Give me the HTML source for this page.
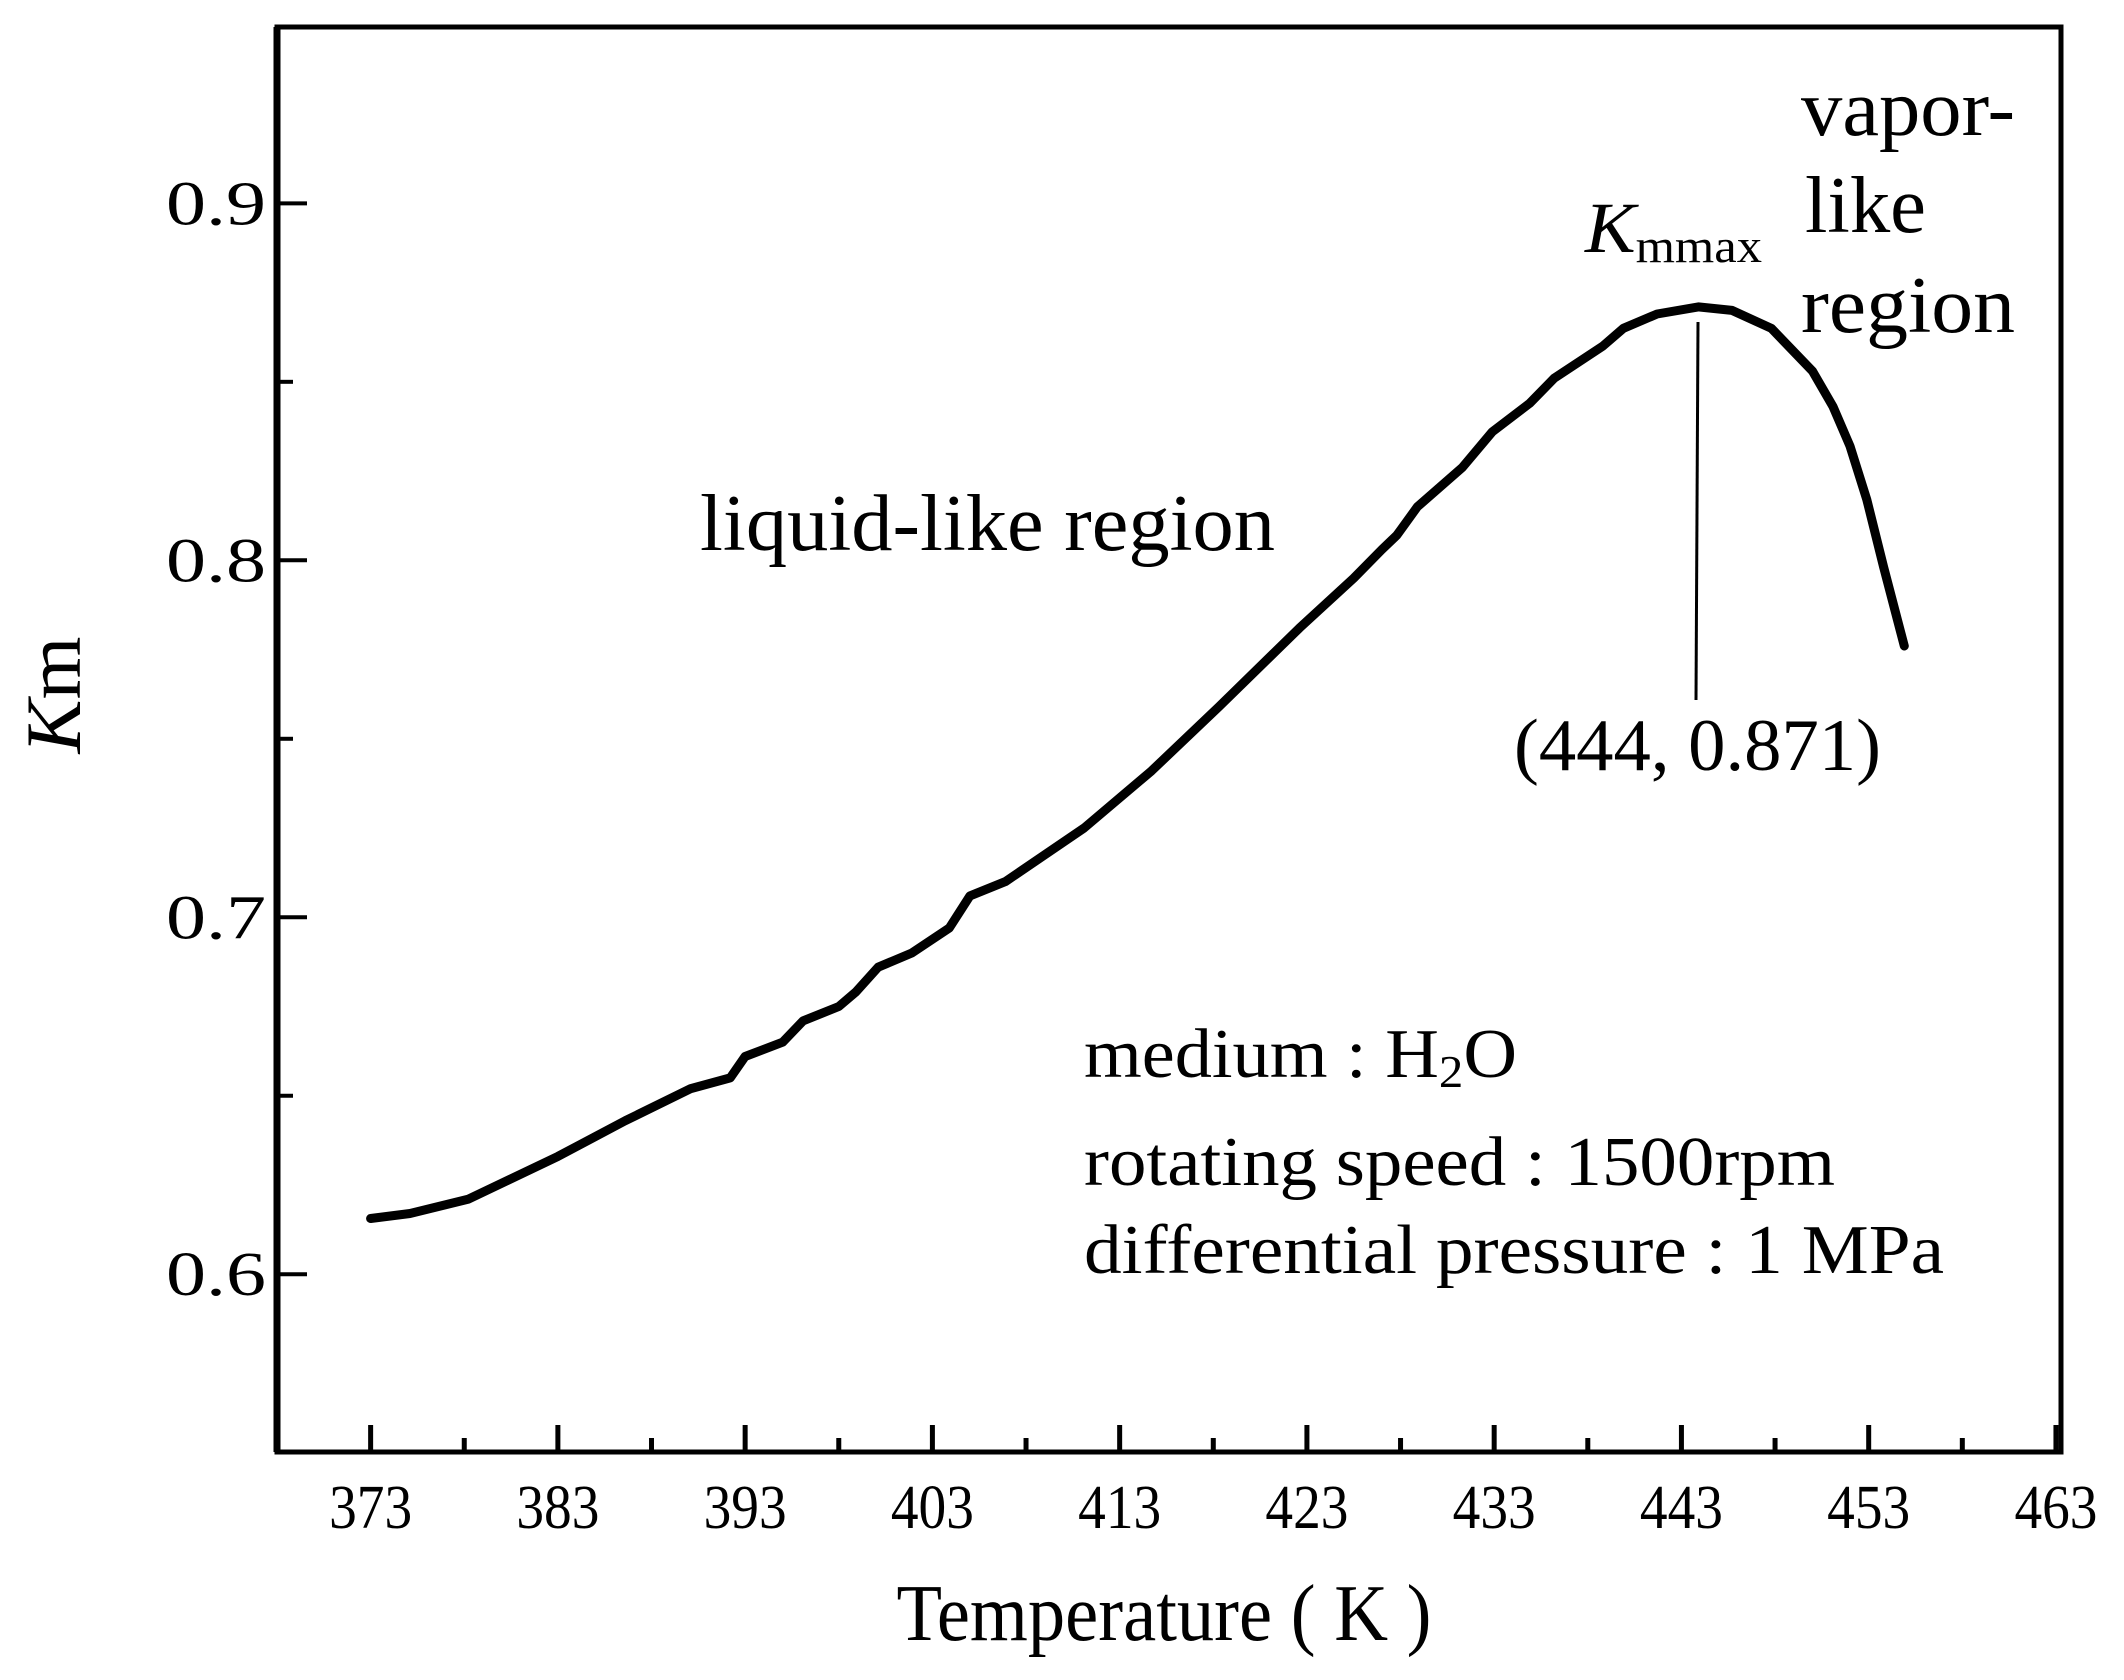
<!DOCTYPE html>
<html><head><meta charset="utf-8"><style>
html,body{margin:0;padding:0;background:#fff;}
svg{display:block;}
svg text{font-family:"Liberation Serif",serif;}
</style></head><body>
<svg id="chart" width="2124" height="1680" viewBox="0 0 2124 1680" xmlns="http://www.w3.org/2000/svg">
<rect x="0" y="0" width="2124" height="1680" fill="#fff"/>
<g id="axes"></g>
<g id="series"></g>
<g id="labels">
<text transform="translate(80,695) rotate(-90)" text-anchor="middle" font-size="78" textLength="117" lengthAdjust="spacingAndGlyphs"><tspan font-style="italic">K</tspan>m</text>
<text x="1164" y="1640" text-anchor="middle" font-size="80" textLength="535" lengthAdjust="spacingAndGlyphs">Temperature ( K )</text>
<text x="700" y="550" font-size="80" textLength="575" lengthAdjust="spacingAndGlyphs">liquid-like region</text>
<text x="1801" y="135" font-size="80" textLength="214" lengthAdjust="spacingAndGlyphs">vapor-</text>
<text x="1805" y="232" font-size="80" textLength="121" lengthAdjust="spacingAndGlyphs">like</text>
<text x="1801" y="332" font-size="80" textLength="214" lengthAdjust="spacingAndGlyphs">region</text>
<text x="1585" y="252" font-size="72" textLength="177" lengthAdjust="spacingAndGlyphs"><tspan font-style="italic">K</tspan><tspan font-size="48" dy="10">mmax</tspan></text>
<line x1="1698" y1="322" x2="1696" y2="700" stroke="#000" stroke-width="3"/>
<text x="1514" y="770" font-size="74" textLength="367" lengthAdjust="spacingAndGlyphs">(444, 0.871)</text>
<text x="1084" y="1077" font-size="70" textLength="433" lengthAdjust="spacingAndGlyphs">medium : H<tspan font-size="46" dy="10">2</tspan><tspan dy="-10">O</tspan></text>
<text x="1084" y="1185" font-size="70" textLength="751" lengthAdjust="spacingAndGlyphs">rotating speed : 1500rpm</text>
<text x="1084" y="1273" font-size="70" textLength="860" lengthAdjust="spacingAndGlyphs">differential pressure : 1 MPa</text>
</g>
</svg>
<script>
const temps = [373,375.1,378.2,383,386.6,390.1,392.2,393.0,395.0,396.1,398,398.9,400.1,401.9,403.9,405.0,406.9,411.1,414.7,418.3,422.6,425.5,427.0,427.8,428.9,431.3,432.9,434.9,436.2,438.8,439.9,441.7,443.9,445.7,447.8,450,451.1,452,452.9,453.8,454.9];
const kmValues = [0.6156,0.617,0.621,0.633,0.643,0.652,0.655,0.661,0.665,0.671,0.675,0.679,0.686,0.690,0.697,0.706,0.710,0.725,0.741,0.759,0.781,0.795,0.803,0.807,0.815,0.826,0.836,0.844,0.851,0.860,0.865,0.869,0.871,0.870,0.865,0.853,0.843,0.832,0.817,0.798,0.776];
const xTicks = [373,383,393,403,413,423,433,443,453,463];
const xTickLabels = ["373","383","393","403","413","423","433","443","453","463"];
const yTicks = [0.6,0.7,0.8,0.9];
const yTickLabels = ["0.6","0.7","0.8","0.9"];
const xMinorTicks = [378,388,398,408,418,428,438,448,458];
const yMinorTicks = [0.65,0.75,0.85];

const L=277,R=2061,T=27,B=1452;
const xMin=368.0,xMax=463.27,yMin=0.5502,yMax=0.9494;
const sx=v=>L+(v-xMin)/(xMax-xMin)*(R-L);
const sy=v=>B-(v-yMin)/(yMax-yMin)*(B-T);
const NS="http://www.w3.org/2000/svg";
const axes=document.getElementById('axes');
function mk(tag,attrs,parent){const e=document.createElementNS(NS,tag);for(const k in attrs)e.setAttribute(k,attrs[k]);parent.appendChild(e);return e;}

const frame=mk('rect',{x:L,y:T,width:R-L,height:B-T,fill:'none',stroke:'#000','stroke-width':5},axes);


const yAxisLine=mk('line',{x1:L,y1:T,x2:L,y2:B,stroke:'#000','stroke-width':7},axes);



xTicks.forEach((v,i)=>{
  const x=sx(v);
  const t=mk('line',{x1:x,y1:B,x2:x,y2:B-27,stroke:'#000','stroke-width':5},axes);
  
  
  const tx=mk('text',{x:x,y:1528,'text-anchor':'middle','font-size':62,textLength:83,lengthAdjust:'spacingAndGlyphs'},axes);
  tx.textContent=xTickLabels[i];
  
  
});
xMinorTicks.forEach(v=>{
  const x=sx(v);
  const t=mk('line',{x1:x,y1:B,x2:x,y2:B-14,stroke:'#000','stroke-width':5},axes);
  
  
});
yTicks.forEach((v,i)=>{
  const y=sy(v);
  const t=mk('line',{x1:L,y1:y,x2:L+30,y2:y,stroke:'#000','stroke-width':4},axes);
  
  
  const tx=mk('text',{x:266,y:y+21,'text-anchor':'end','font-size':62,textLength:100,lengthAdjust:'spacingAndGlyphs'},axes);
  tx.textContent=yTickLabels[i];
  
  
});
yMinorTicks.forEach(v=>{
  const y=sy(v);
  const t=mk('line',{x1:L,y1:y,x2:L+16,y2:y,stroke:'#000','stroke-width':4},axes);
  
  
});

const d=temps.map((t,i)=>(i?'L':'M')+sx(t).toFixed(1)+' '+sy(kmValues[i]).toFixed(1)).join(' ');
const path=mk('path',{d:d,fill:'none',stroke:'#000','stroke-width':9,'stroke-linejoin':'round','stroke-linecap':'round'},document.getElementById('series'));


</script>
</body></html>
